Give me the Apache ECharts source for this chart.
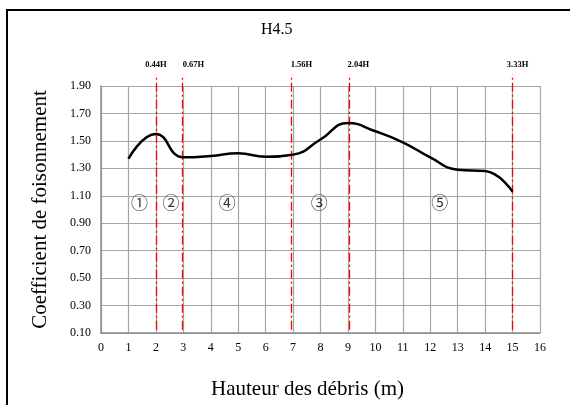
<!DOCTYPE html>
<html>
<head>
<meta charset="utf-8">
<script src="https://cdn.jsdelivr.net/npm/echarts@6/dist/echarts.min.js"></script>
<style>html,body{margin:0;padding:0;background:#fff}#c{width:570px;height:405px}</style>
</head>
<body>
<div id="c"></div>
<script>
// Data
var heights = [1, 2, 3, 4, 5, 6, 7, 8, 9, 10, 11, 12, 13, 14, 15];
var coefficients = [1.37, 1.55, 1.38, 1.39, 1.41, 1.385, 1.40, 1.51, 1.63, 1.57, 1.49, 1.38, 1.29, 1.28, 1.13];
var refLabels = ['0.44H', '0.67H', '1.56H', '2.04H', '3.33H'];
var refPositions = [2, 2.97, 6.94, 9.05, 15];
var refBottom = 0.2;
var refTop = 1.98;
var zoneLabels = ['\u2460', '\u2461', '\u2463', '\u2462', '\u2464'];
var zoneX = [1.4, 2.55, 4.6, 7.95, 12.35];
var zoneY = [1.05, 1.05, 1.05, 1.05, 1.05];
var xTicks = {min: 0, max: 16, step: 1};
var yTicks = {min: 0.1, max: 1.9, step: 0.2};

var serif = '"Liberation Serif", "Times New Roman", serif';
var labelDx = [0, 11, 10, 9, 5];

// Overlay axis extends above the plot so the reference lines can rise past 1.90
var plotTop = 86, plotBottom = 61, plotH = 405 - plotTop - plotBottom;
var overlayMax = 2.0;
var overlayTop = plotTop - (overlayMax - yTicks.max) * plotH / (yTicks.max - yTicks.min);

var markData = refPositions.map(function (x, i) {
  return [
    {coord: [x, refBottom]},
    {coord: [x, refTop], label: {formatter: refLabels[i], offset: [labelDx[i], 0]}}
  ];
});

var chart = echarts.init(document.getElementById('c'), null, {renderer: 'canvas'});
chart.setOption({
  animation: false,
  backgroundColor: '#fff',
  title: {
    text: 'H4.5', left: 256, top: 17,
    textStyle: {fontFamily: serif, fontSize: 16, fontWeight: 'normal', color: '#000'}
  },
  graphic: [{
    type: 'rect', shape: {x: 7, y: 10, width: 700, height: 500},
    style: {fill: 'none', stroke: '#000', lineWidth: 2}, silent: true
  }],
  grid: [
    {left: 101, right: 30, top: plotTop, bottom: plotBottom, containLabel: false},
    {left: 101, right: 30, top: overlayTop, bottom: plotBottom, containLabel: false}
  ],
  xAxis: [{
    type: 'value', min: xTicks.min, max: xTicks.max, interval: xTicks.step,
    name: 'Hauteur des débris (m)', nameLocation: 'middle', nameGap: 46,
    nameTextStyle: {fontFamily: serif, fontSize: 21, color: '#000', padding: [0, 26, 0, 0]},
    axisLine: {show: true, lineStyle: {color: '#8c8c8c', width: 1.5}},
    axisTick: {show: false},
    axisLabel: {fontFamily: serif, fontSize: 12, color: '#000', margin: 9},
    splitLine: {show: true, lineStyle: {color: '#a6a6a6', width: 1.2}}
  }, {
    gridIndex: 1, type: 'value', min: xTicks.min, max: xTicks.max, show: false
  }],
  yAxis: [{
    type: 'value', min: yTicks.min, max: yTicks.max, interval: yTicks.step,
    name: 'Coefficient de foisonnement', nameLocation: 'middle', nameGap: 50,
    nameTextStyle: {fontFamily: serif, fontSize: 21, color: '#000'},
    axisLine: {show: true, lineStyle: {color: '#8c8c8c', width: 1.5}},
    axisTick: {show: false},
    axisLabel: {fontFamily: serif, fontSize: 12, color: '#000', margin: 10,
      formatter: function (v) { return v.toFixed(2); }},
    splitLine: {show: true, lineStyle: {color: '#a6a6a6', width: 1.2}}
  }, {
    gridIndex: 1, type: 'value', min: yTicks.min, max: overlayMax, show: false
  }],
  series: [{
    type: 'line',
    data: heights.map(function (h, i) { return [h, coefficients[i]]; }),
    smooth: 0.5,
    showSymbol: false,
    lineStyle: {color: '#000', width: 2.5},
    z: 5
  }, {
    type: 'line',
    xAxisIndex: 1, yAxisIndex: 1,
    data: refPositions.map(function (x) { return [x, refBottom]; }),
    showSymbol: false,
    lineStyle: {opacity: 0, width: 0},
    z: 4,
    markLine: {
      silent: true,
      symbol: ['none', 'none'],
      lineStyle: {color: '#ff0000', width: 1.3, type: [9, 3, 2, 3]},
      label: {show: true, position: 'end', distance: 5,
        fontFamily: serif, fontSize: 8.5, fontWeight: 'bold', color: '#000'},
      data: markData
    }
  }, {
    type: 'scatter',
    data: zoneX.map(function (x, i) { return [x, zoneY[i], zoneLabels[i]]; }),
    symbolSize: 0,
    label: {show: true, position: 'inside', fontFamily: '"Noto Sans CJK SC", "DejaVu Sans", sans-serif',
      fontSize: 17, color: '#000',
      formatter: function (p) { return p.data[2]; }},
    z: 6
  }]
});
</script>
</body>
</html>
